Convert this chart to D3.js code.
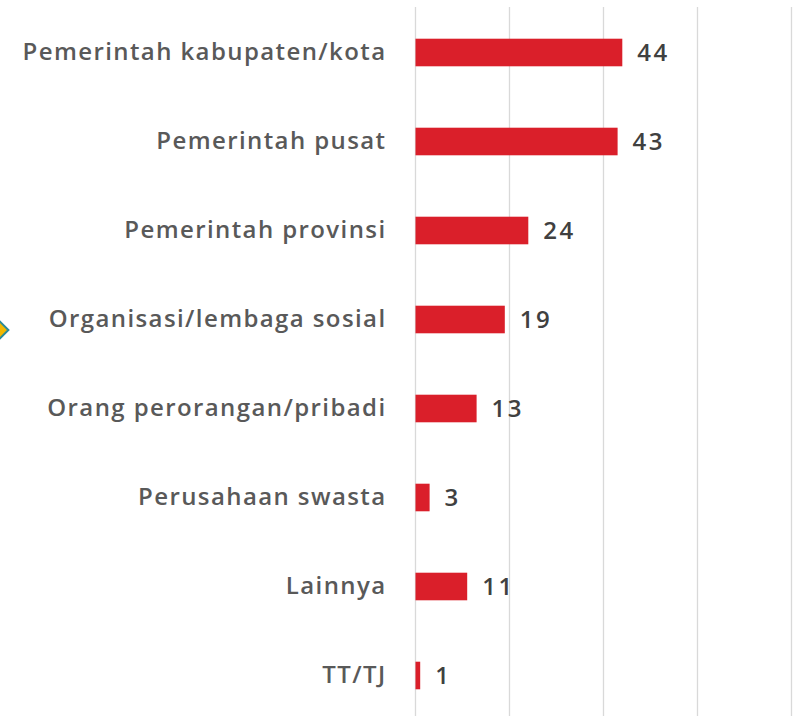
<!DOCTYPE html>
<html>
<head>
<meta charset="utf-8">
<script src="https://cdn.jsdelivr.net/npm/d3@7"></script>
<style>
  body { margin: 0; background: #fff; }
  svg { display: block; }
</style>
</head>
<body>
<svg id="chart"></svg>
<script>
// categories top to bottom and their values
const categories = [
  'Pemerintah kabupaten/kota',
  'Pemerintah pusat',
  'Pemerintah provinsi',
  'Organisasi/lembaga sosial',
  'Orang perorangan/pribadi',
  'Perusahaan swasta',
  'Lainnya',
  'TT/TJ'
];
const values = [44, 43, 24, 19, 13, 3, 11, 1];
const gridTicks = [0, 20, 40, 60, 80];

const width = 796, height = 716;
const margin = { top: 8, right: 4, bottom: -4, left: 415.5 };

let svg = d3.select('#chart')
    .attr('width', width)
    .attr('height', height);

let chart = svg.append('g')
    .attr('transform', `translate(${margin.left},${margin.top})`);

let innerH = height - margin.top - margin.bottom;

// 20 units is about 94px in the picture
let xScale = d3.scaleLinear()
    .domain([0, 80])
    .range([0, 94 * 4]);

let yScale = d3.scaleBand()
    .domain(categories)
    .range([0, innerH])
    .paddingInner(0.69)
    .paddingOuter(0.345);

// vertical gridlines
chart.append('g')
    .selectAll('line')
    .data(gridTicks)
  .enter().append('line')
    .attr('x1', d => xScale(d))
    .attr('x2', d => xScale(d))
    .attr('y1', -1)
    .attr('y2', innerH + 10)
    .style('stroke', '#d9d9d9')
    .style('stroke-width', 1.3);

// bars
chart.selectAll('rect.bar')
    .data(values)
  .enter().append('rect')
    .attr('class', 'bar')
    .attr('x', 0)
    .attr('y', (d, i) => yScale(categories[i]))
    .attr('width', d => xScale(d))
    .attr('height', yScale.bandwidth())
    .style('fill', '#da1f2a');

// value labels
chart.selectAll('text.value')
    .data(values)
  .enter().append('text')
    .attr('class', 'value')
    .attr('x', d => xScale(d) + 15)
    .attr('y', (d, i) => yScale(categories[i]) + yScale.bandwidth() / 2)
    .attr('dy', '0.36em')
    .style('font-family', '"Open Sans", sans-serif')
    .style('font-size', '24px')
    .style('font-weight', 600)
    .style('letter-spacing', '2.5px')
    .style('fill', '#404040')
    .text(d => d);

// category labels
chart.selectAll('text.cat')
    .data(categories)
  .enter().append('text')
    .attr('class', 'cat')
    .attr('x', -29)
    .attr('y', d => yScale(d) + yScale.bandwidth() / 2)
    .attr('dy', '0.3em')
    .attr('text-anchor', 'end')
    .style('font-family', '"Open Sans", sans-serif')
    .style('font-size', '24px')
    .style('font-weight', 600)
    .style('letter-spacing', '1.4px')
    .style('fill', '#595959')
    .text(d => d);

// small marker at the left edge
svg.append('path')
    .attr('d', d3.symbol(d3.symbolDiamond2, 180)())
    .attr('transform', 'translate(0,330)')
    .style('fill', '#f2b800')
    .style('stroke', '#2a8a99')
    .style('stroke-width', 2);
</script>
</body>
</html>
